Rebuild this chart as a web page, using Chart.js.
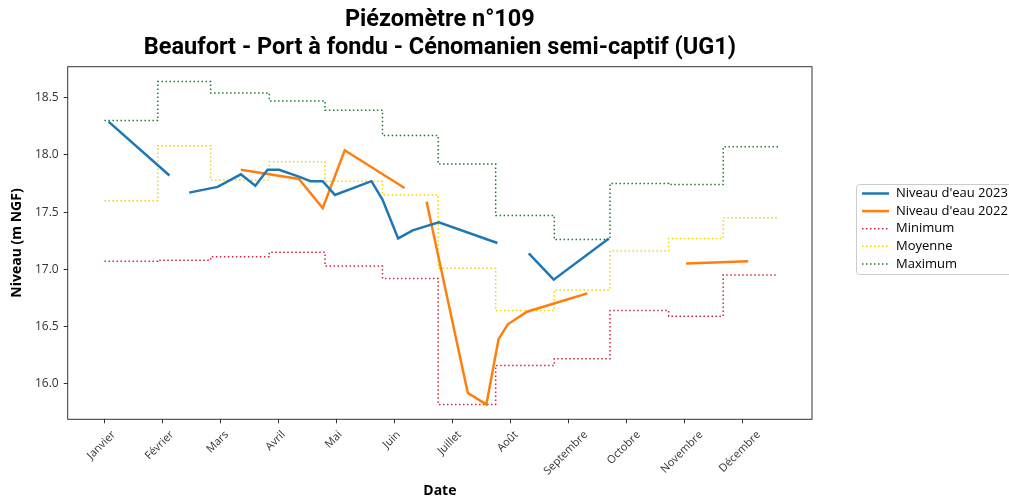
<!DOCTYPE html>
<html lang="fr">
<head>
<meta charset="utf-8">
<title>Piézomètre n°109</title>
<script src="https://cdn.jsdelivr.net/npm/chart.js@4.4.1/dist/chart.umd.min.js"></script>
<style>
  html, body { margin: 0; padding: 0; background: #fff; }
  #wrap { width: 1009px; height: 500px; }
</style>
</head>
<body>
<div id="wrap"><canvas id="myChart" width="1009" height="500"></canvas></div>
<script>
// x values are in months, 0 = Janvier tick
const months = ['Janvier', 'Février', 'Mars', 'Avril', 'Mai', 'Juin', 'Juillet', 'Août',
    'Septembre', 'Octobre', 'Novembre', 'Décembre'];
const yTicks = [16.0, 16.5, 17.0, 17.5, 18.0, 18.5];

// monthly reference levels (step starts, last value repeated for the end)
const refX = [0, 0.92, 1.83, 2.84, 3.80, 4.79, 5.75, 6.74, 7.75, 8.71, 9.72, 10.66, 11.61];
const minimum = [17.07, 17.08, 17.11, 17.15, 17.03, 16.92, 15.82, 16.16, 16.22, 16.64, 16.59, 16.95, 16.95];
const moyenne = [17.60, 18.08, 17.78, 17.94, 17.77, 17.65, 17.01, 16.64, 16.82, 17.16, 17.27, 17.45, 17.45];
const maximum = [18.30, 18.64, 18.54, 18.47, 18.39, 18.17, 17.92, 17.47, 17.26, 17.75, 17.74, 18.07, 18.07];

// measurements (null = no data, line is broken)
const niveau2023X = [0.07, 1.12, 1.30, 1.46, 1.95, 2.35, 2.60, 2.81, 3.01, 3.35, 3.55, 3.76, 3.97,
    4.60, 4.79, 5.06, 5.31, 5.76, 6.77, 7.00, 7.31, 7.74, 8.69];
const niveau2023Y = [18.29, 17.82, null, 17.67, 17.72, 17.83, 17.73, 17.87, 17.87, 17.81, 17.77, 17.77, 17.65,
    17.77, 17.61, 17.27, 17.34, 17.41, 17.23, null, 17.14, 16.91, 17.27];

const niveau2022X = [2.35, 3.35, 3.76, 4.14, 5.17, 5.35, 5.55, 6.26, 6.58, 6.79, 6.95, 7.28, 7.80, 8.32,
    9.00, 10.02, 11.09];
const niveau2022Y = [17.87, 17.79, 17.535, 18.04, 17.71, null, 17.59, 15.92, 15.82, 16.39, 16.52, 16.63, 16.71, 16.79,
    null, 17.05, 17.07];

const toPoints = (xs, ys) => xs.map((x, i) => ({ x: x, y: ys[i] }));

const dotted = [1.5, 2.5];

const frame = {
    id: 'frame',
    afterDraw(chart) {
        const { ctx, chartArea: a } = chart;
        ctx.save();
        ctx.strokeStyle = '#333';
        ctx.lineWidth = 1;
        ctx.strokeRect(a.left, a.top, a.right - a.left, a.bottom - a.top);
        ctx.restore();
    }
};

// month labels centred under their tick like the original
const monthLabels = {
    id: 'monthLabels',
    afterDraw(chart) {
        const ctx = chart.ctx;
        const xs = chart.scales.x;
        const top = chart.chartArea.bottom + 9;
        ctx.save();
        ctx.font = '11px "Open Sans"';
        ctx.fillStyle = '#333';
        ctx.textAlign = 'center';
        ctx.textBaseline = 'middle';
        xs.ticks.forEach(t => {
            const label = months[t.value];
            const w = ctx.measureText(label).width;
            const half = (w + 13) * Math.SQRT1_2 / 2;
            ctx.save();
            ctx.translate(xs.getPixelForValue(t.value) - 3, top + half);
            ctx.rotate(-Math.PI / 4);
            ctx.fillText(label, 0, 0);
            ctx.restore();
        });
        ctx.restore();
    }
};

const legendBox = {
    id: 'legendBox',
    afterDraw(chart) {
        const ctx = chart.ctx;
        const left = 856, top = 184, row = 17.6;
        ctx.save();
        ctx.strokeStyle = '#cccccc';
        ctx.lineWidth = 1;
        ctx.beginPath();
        ctx.roundRect(left + 0.5, top + 0.5, 170, 90, 3);
        ctx.stroke();
        ctx.font = '13px "Open Sans"';
        ctx.textBaseline = 'middle';
        ctx.fillStyle = '#000';
        chart.data.datasets.forEach((ds, i) => {
            const y = top + 9.5 + i * row;
            ctx.strokeStyle = ds.borderColor;
            ctx.lineWidth = ds.borderWidth;
            ctx.setLineDash(ds.borderDash || []);
            ctx.beginPath();
            ctx.moveTo(862, y);
            ctx.lineTo(889, y);
            ctx.stroke();
            ctx.setLineDash([]);
            ctx.fillText(ds.label, 896, y);
        });
        ctx.restore();
    }
};

const constructChart = () => {
    const data = {
        datasets: [{
            label: "Niveau d'eau 2023",
            data: toPoints(niveau2023X, niveau2023Y),
            borderColor: '#1f77b4',
            borderWidth: 2.5
        }, {
            label: "Niveau d'eau 2022",
            data: toPoints(niveau2022X, niveau2022Y),
            borderColor: '#ff7f0e',
            borderWidth: 2.5
        }, {
            label: 'Minimum',
            data: toPoints(refX, minimum),
            borderColor: '#d0283a',
            borderWidth: 1.5,
            borderDash: dotted,
            stepped: 'before'
        }, {
            label: 'Moyenne',
            data: toPoints(refX, moyenne),
            borderColor: '#f5d400',
            borderWidth: 1.5,
            borderDash: dotted,
            stepped: 'before'
        }, {
            label: 'Maximum',
            data: toPoints(refX, maximum),
            borderColor: '#1e7a2e',
            borderWidth: 1.5,
            borderDash: dotted,
            stepped: 'before'
        }]
    };

    const config = {
        type: 'line',
        data: data,
        plugins: [frame, monthLabels, legendBox],
        options: {
            responsive: false,
            animation: false,
            devicePixelRatio: 1,
            layout: { padding: { left: 0, right: 197, top: 0, bottom: 0 } },
            elements: {
                point: { radius: 0 },
                line: { tension: 0, borderCapStyle: 'butt' }
            },
            scales: {
                x: {
                    type: 'linear',
                    min: -0.633,
                    max: 12.19,
                    afterBuildTicks: (scale) => { scale.ticks = months.map((m, i) => ({ value: i })); },
                    afterFit: (scale) => { scale.height = 80.7; },
                    ticks: { display: false },
                    grid: { drawOnChartArea: false, tickLength: 4, color: '#333' },
                    border: { display: false },
                    title: {
                        display: true,
                        text: 'Date',
                        color: '#000',
                        font: { family: 'Open Sans', size: 14, weight: 'bold' },
                        padding: { top: 0, bottom: 0.6 }
                    }
                },
                y: {
                    min: 15.69,
                    max: 18.77,
                    afterBuildTicks: (scale) => { scale.ticks = yTicks.map(v => ({ value: v })); },
                    afterFit: (scale) => { scale.width = 67.7; },
                    ticks: {
                        color: '#333',
                        padding: 5,
                        font: { family: 'Open Sans', size: 12 },
                        callback: (v) => v.toFixed(1)
                    },
                    grid: { drawOnChartArea: false, tickLength: 4, color: '#333' },
                    border: { display: false },
                    title: {
                        display: true,
                        text: 'Niveau (m NGF)',
                        color: '#000',
                        font: { family: 'Open Sans', size: 14, weight: 'bold' },
                        padding: { top: 8.6, bottom: 0 }
                    }
                }
            },
            plugins: {
                legend: { display: false },
                tooltip: { enabled: false },
                title: {
                    display: true,
                    fullSize: false,
                    text: ['Piézomètre n°109', 'Beaufort - Port à fondu - Cénomanien semi-captif (UG1)'],
                    color: '#000',
                    font: { family: 'Roboto', size: 23.5, weight: 'bold', lineHeight: 1.2 },
                    padding: { top: 6, bottom: 4.3 }
                }
            }
        }
    };

    new Chart(document.getElementById('myChart'), config);
};

constructChart();
</script>
</body>
</html>
